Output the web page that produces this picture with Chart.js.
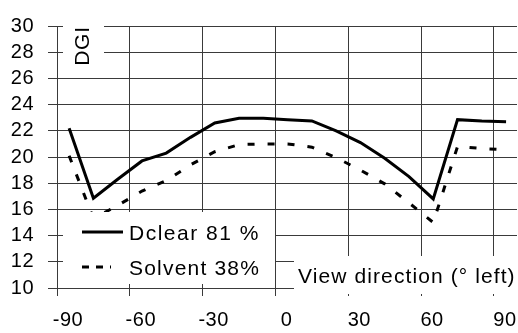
<!DOCTYPE html>
<html>
<head>
<meta charset="utf-8">
<script src="https://cdn.jsdelivr.net/npm/chart.js@4.4.1/dist/chart.umd.min.js"></script>
<style>
  html, body { margin: 0; padding: 0; background: #fff; }
  #wrap { width: 518px; height: 333px; }
</style>
</head>
<body>
<div id="wrap"><canvas id="dgiChart" width="518" height="333"></canvas></div>
<script>
// DGI against view direction, two glazings

const viewAngles = [-85, -75, -65, -55, -45, -35, -25, -15, -5, 5, 15, 25, 35, 45, 55, 65, 75, 85, 95];
const dclearValues = [22.2, 16.85, 18.3, 19.7, 20.3, 21.5, 22.6, 22.95, 22.95, 22.85, 22.75, 22.0, 21.1, 19.9, 18.5, 16.8, 22.85, 22.75, 22.7];
const solventValues = [20.1, 15.3, 16.3, 17.4, 18.2, 19.4, 20.4, 20.95, 21.0, 21.0, 20.75, 19.95, 19.0, 17.95, 16.5, 15.0, 20.8, 20.65, 20.55];

const xTicks = [-90, -60, -30, 0, 30, 60, 90];
const seriesNames = ['Dclear 81 %', 'Solvent 38%'];
const yTitle = 'DGI';
const xTitle = 'View direction (\u00b0 left)';

const gridColor = '#3a3a3a';
const tickFont = { family: '"Liberation Sans", Arial, sans-serif', size: 20 };
const textFont = '21px "Liberation Sans", Arial, sans-serif';

function toPoints(values) {
    return values.map((v, i) => ({ x: viewAngles[i], y: v }));
}

// legend, DGI label and axis title sit inside the plot on white boxes
const overlayPlugin = {
    id: 'overlay',
    beforeDraw(chart) {
        chart.ctx.letterSpacing = '0.5px';
    },
    afterDatasetsDraw(chart) {
        const ctx = chart.ctx;
        ctx.save();
        ctx.fillStyle = '#fff';
        ctx.fillRect(63, 212, 212, 72);
        ctx.fillRect(63, 22, 41, 48);
        ctx.fillRect(294, 256, 224, 38);

        ctx.strokeStyle = '#000';
        ctx.lineWidth = 3;
        ctx.beginPath();
        ctx.moveTo(82, 232);
        ctx.lineTo(123, 232);
        ctx.stroke();
        ctx.setLineDash([7, 7]);
        ctx.beginPath();
        ctx.moveTo(82, 267);
        ctx.lineTo(111, 267);
        ctx.stroke();
        ctx.setLineDash([]);

        ctx.fillStyle = '#000';
        ctx.font = textFont;
        ctx.textBaseline = 'alphabetic';
        ctx.textAlign = 'left';
        ctx.letterSpacing = '1.5px';
        ctx.fillText(seriesNames[0], 129, 240);
        ctx.letterSpacing = '1.2px';
        ctx.fillText(seriesNames[1], 129, 275);
        ctx.letterSpacing = '1.1px';
        ctx.fillText(xTitle, 298, 283);

        ctx.translate(89, 46);
        ctx.rotate(-Math.PI / 2);
        ctx.textAlign = 'center';
        ctx.letterSpacing = '0.8px';
        ctx.fillText(yTitle, 0, 0);
        ctx.restore();
    }
};

new Chart(document.getElementById('dgiChart'), {
    type: 'line',
    data: {
        datasets: [
            {
                label: seriesNames[0],
                data: toPoints(dclearValues),
                borderColor: '#000',
                borderWidth: 3,
                pointRadius: 0,
                tension: 0
            },
            {
                label: seriesNames[1],
                data: toPoints(solventValues),
                borderColor: '#000',
                borderWidth: 3,
                borderDash: [7, 13],
                pointRadius: 0,
                tension: 0
            }
        ]
    },
    options: {
        responsive: false,
        animation: false,
        devicePixelRatio: 1,
        layout: { padding: { top: 19, right: 1, bottom: 0, left: 0 } },
        plugins: {
            legend: { display: false },
            tooltip: { enabled: false }
        },
        scales: {
            x: {
                type: 'linear',
                min: -90,
                max: 99.5,
                afterBuildTicks: axis => { axis.ticks = xTicks.map(v => ({ value: v })); },
                afterFit: axis => { axis.height = 45; },
                grid: { color: gridColor, lineWidth: 1, tickLength: 8 },
                border: { color: gridColor },
                ticks: {
                    color: '#000',
                    font: tickFont,
                    padding: 12,
                    labelOffset: 11,
                    maxRotation: 0,
                    autoSkip: false
                }
            },
            y: {
                min: 10,
                max: 30,
                afterFit: axis => { axis.width = 57; },
                grid: { color: gridColor, lineWidth: 1, tickLength: 9 },
                border: { color: gridColor },
                ticks: {
                    color: '#000',
                    font: tickFont,
                    stepSize: 2,
                    padding: 14,
                    autoSkip: false
                }
            }
        }
    },
    plugins: [overlayPlugin]
});
</script>
</body>
</html>
